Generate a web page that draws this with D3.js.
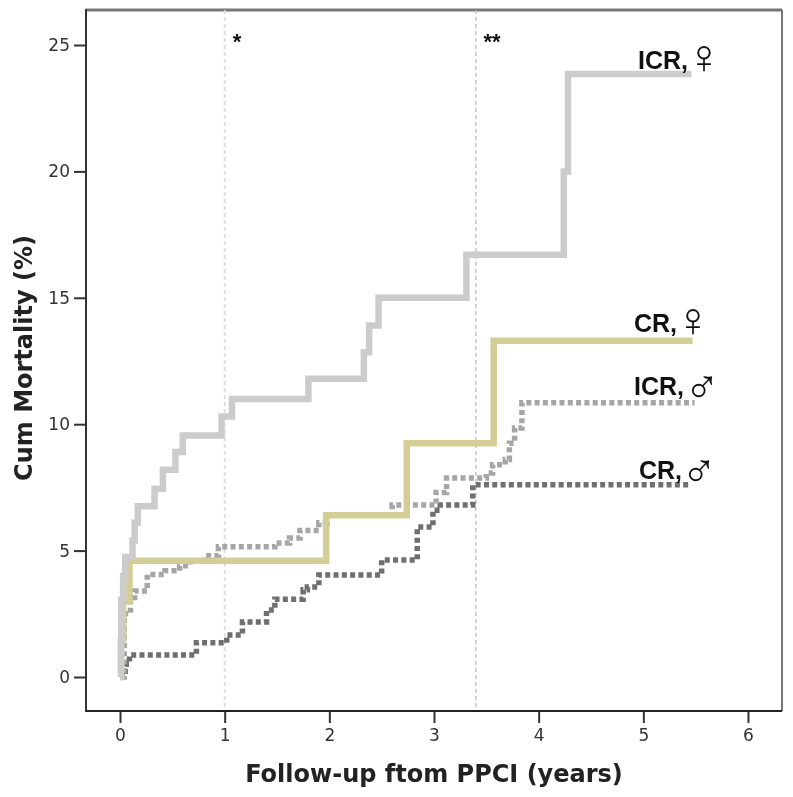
<!DOCTYPE html>
<html>
<head>
<meta charset="utf-8">
<script src="https://cdn.jsdelivr.net/npm/d3@7"></script>
<style>
    html, body { margin: 0; padding: 0; background: #fff; }
    svg { display: block; filter: blur(0.45px); }
    .tick text { font-family: "DejaVu Sans", sans-serif; font-size: 17px; fill: #333; }
    .tick line { stroke: #333; stroke-width: 2; }
    .axis-title { font-family: "DejaVu Sans", sans-serif; font-weight: bold; font-size: 24px; fill: #222; }
    .curve-label { font-family: "Liberation Sans", sans-serif; font-weight: bold; font-size: 25px; fill: #111; }
    .sex-symbol { font-family: "Liberation Sans", sans-serif; font-size: 48px; fill: #111; }
    .star { font-family: "Liberation Sans", sans-serif; font-weight: bold; font-size: 22px; fill: #111; }
</style>
</head>
<body>
<svg id="chart"></svg>
<script>
// Values: [years, cum mortality %]
const icrFemale = [[0, 0], [0.01, 1.45], [0.012, 3.05], [0.03, 4.0], [0.05, 4.75], [0.12, 5.4], [0.14, 6.1], [0.17, 6.75],
    [0.33, 7.45], [0.41, 8.2], [0.53, 8.9], [0.6, 9.55], [0.97, 10.3], [1.07, 11], [1.8, 11.8], [2.33, 12.85],
    [2.38, 13.9], [2.47, 15], [3.31, 16.7], [4.24, 20], [4.28, 23.85], [5.46, 23.85]];
const crFemale = [[0, 0], [0.01, 1.5], [0.03, 3.0], [0.09, 4.6], [1.97, 6.4], [2.74, 9.25], [3.57, 13.3], [5.47, 13.3]];
const icrMale = [[0, 0], [0.04, 2.5], [0.1, 3.0], [0.14, 3.4], [0.26, 4.05], [0.43, 4.2], [0.57, 4.4], [0.67, 4.6],
    [0.81, 4.8], [0.94, 5.15], [1.48, 5.3], [1.62, 5.5], [1.72, 5.8], [1.9, 6.1], [1.98, 6.4], [2.6, 6.8],
    [3.02, 7.3], [3.12, 7.87], [3.5, 8.07], [3.56, 8.4], [3.68, 8.6], [3.72, 9.25], [3.77, 9.85], [3.84, 10.85], [5.49, 10.85]];
const crMale = [[0, 0], [0.05, 0.5], [0.09, 0.87], [0.73, 1.35], [1.02, 1.66], [1.17, 2.18], [1.4, 2.65], [1.48, 3.08],
    [1.75, 3.45], [1.79, 3.56], [1.9, 4.03], [2.5, 4.63], [2.84, 5.93], [2.99, 6.6], [3.06, 6.8], [3.37, 7.6], [5.45, 7.6]];

const xTicks = [0, 1, 2, 3, 4, 5, 6];
const yTicks = [0, 5, 10, 15, 20, 25];
const refLines = [1, 3.4];

const width = 793;
const height = 797;
const margin = { top: 10, right: 11, bottom: 86, left: 86 };

const svg = d3.select("#chart").attr("width", width).attr("height", height);

const x = d3.scaleLinear().domain([0, 6]).range([120, 748]);
const y = d3.scaleLinear().domain([0, 25]).range([677, 45]);

// Frame: top and right are lighter than the two axis sides
svg.append("line").attr("x1", margin.left).attr("x2", width - margin.right)
    .attr("y1", margin.top).attr("y2", margin.top).attr("stroke", "#777").attr("stroke-width", 3);
svg.append("line").attr("x1", width - margin.right).attr("x2", width - margin.right)
    .attr("y1", margin.top).attr("y2", height - margin.bottom).attr("stroke", "#777").attr("stroke-width", 2);

// Reference lines
svg.selectAll(".ref-line")
    .data(refLines)
    .enter()
    .append("line")
    .attr("class", "ref-line")
    .attr("x1", d => x(d)).attr("x2", d => x(d))
    .attr("y1", margin.top).attr("y2", height - margin.bottom)
    .attr("stroke", (d, i) => i === 0 ? "#dcdcdc" : "#b8b8b8")
    .attr("stroke-width", (d, i) => i === 0 ? 1.8 : 1.2)
    .attr("stroke-dasharray", "4 3");

const stepLine = d3.line()
    .x(d => x(d[0]))
    .y(d => y(d[1]))
    .curve(d3.curveStepAfter);

const curves = [
    { data: crMale, color: "#6f6f6f", w: 5.5, dash: "5 3.3" },
    { data: icrMale, color: "#a6a6a6", w: 5.5, dash: "5 3.3" },
    { data: crFemale, color: "#d3cd96", w: 6.5, dash: null },
    { data: icrFemale, color: "#cccccc", w: 6.5, dash: null }
];

svg.selectAll(".curve")
    .data(curves)
    .enter()
    .append("path")
    .attr("class", "curve")
    .attr("d", d => stepLine(d.data))
    .attr("fill", "none")
    .attr("stroke", d => d.color)
    .attr("stroke-width", d => d.w)
    .attr("stroke-dasharray", d => d.dash);

// Axes
const xAxis = svg.append("g")
    .attr("transform", `translate(0, ${height - margin.bottom})`)
    .call(d3.axisBottom(x).tickValues(xTicks).tickSize(12).tickPadding(6).tickFormat(d3.format("d")));
const yAxis = svg.append("g")
    .attr("transform", `translate(${margin.left}, 0)`)
    .call(d3.axisLeft(y).tickValues(yTicks).tickSize(12).tickPadding(4).tickFormat(d3.format("d")));
xAxis.select(".domain").remove();
yAxis.select(".domain").remove();

svg.append("line").attr("x1", margin.left).attr("x2", margin.left)
    .attr("y1", margin.top - 1).attr("y2", height - margin.bottom + 1).attr("stroke", "#333").attr("stroke-width", 2);
svg.append("line").attr("x1", margin.left).attr("x2", width - margin.right)
    .attr("y1", height - margin.bottom).attr("y2", height - margin.bottom).attr("stroke", "#222").attr("stroke-width", 2);

// Axis titles
svg.append("text")
    .attr("class", "axis-title")
    .attr("text-anchor", "middle")
    .attr("x", 434)
    .attr("y", 782)
    .text("Follow-up ftom PPCI (years)");

svg.append("text")
    .attr("class", "axis-title")
    .attr("text-anchor", "middle")
    .attr("transform", "translate(32, 358) rotate(-90)")
    .text("Cum Mortality (%)");

// Curve labels
const labelNames = ["ICR,", "CR,", "ICR,", "CR,"];
const labelSymbols = ["\u2640", "\u2640", "\u2642", "\u2642"];
const labelX = [688, 677, 684, 682];
const labelY = [69, 332, 395, 479];
const symbolX = [704, 693, 702, 699];
const symbolY = [73, 336, 403, 487];

labelNames.forEach((name, i) => {
    svg.append("text").attr("class", "curve-label")
        .attr("text-anchor", "end")
        .attr("x", labelX[i]).attr("y", labelY[i])
        .text(name);
    svg.append("text").attr("class", "sex-symbol")
        .attr("text-anchor", "middle")
        .attr("x", symbolX[i]).attr("y", symbolY[i])
        .text(labelSymbols[i]);
});

// Significance marks
svg.append("text").attr("class", "star").attr("text-anchor", "middle").attr("x", 237).attr("y", 49).text("*");
svg.append("text").attr("class", "star").attr("text-anchor", "middle").attr("x", 492).attr("y", 49).text("**");
</script>
</body>
</html>
